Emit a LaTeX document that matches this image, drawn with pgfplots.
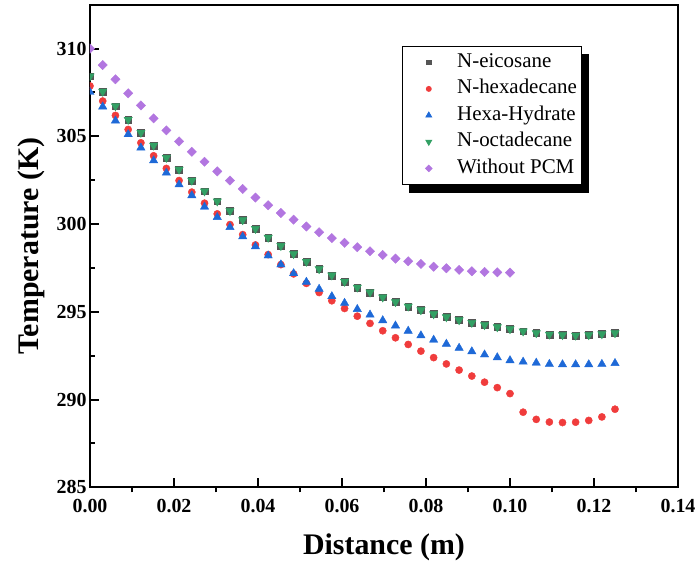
\documentclass[border=0pt]{standalone}
\usepackage{fontspec}
\setmainfont{Liberation Serif}
\usepackage{pgfplots}
\pgfplotsset{compat=1.18}
\usepackage{pgfplotstable}
\usetikzlibrary{backgrounds}

\definecolor{ceic}{RGB}{85,85,85}
\definecolor{chex}{RGB}{240,60,60}
\definecolor{chyd}{RGB}{30,105,215}
\definecolor{coct}{RGB}{50,160,100}
\definecolor{cwo}{RGB}{178,118,224}

\pgfplotstableread{
x eic hex hyd oct wo
0        308.42 307.87 307.52 308.42 310.00
0.00303  307.55 307.01 306.69 307.55 309.06
0.00606  306.72 306.19 305.89 306.72 308.25
0.00909  305.95 305.39 305.11 305.95 307.45
0.01212  305.21 304.63 304.35 305.21 306.76
0.01515  304.48 303.89 303.62 304.48 306.02
0.01818  303.78 303.17 302.92 303.78 305.34
0.02121  303.11 302.48 302.25 303.11 304.71
0.02424  302.48 301.82 301.63 302.48 304.12
0.02727  301.87 301.19 300.98 301.87 303.55
0.03030  301.30 300.58 300.39 301.30 303.00
0.03333  300.75 299.97 299.82 300.75 302.48
0.03636  300.23 299.40 299.29 300.23 302.00
0.03939  299.73 298.81 298.72 299.73 301.51
0.04242  299.23 298.26 298.20 299.23 301.07
0.04545  298.76 297.69 297.69 298.76 300.63
0.04848  298.30 297.16 297.19 298.30 300.25
0.05152  297.86 296.62 296.70 297.86 299.86
0.05455  297.44 296.10 296.30 297.44 299.53
0.05758  297.08 295.63 295.88 297.08 299.20
0.06061  296.72 295.19 295.50 296.72 298.93
0.06364  296.39 294.75 295.15 296.39 298.68
0.06667  296.11 294.34 294.83 296.11 298.45
0.06970  295.83 293.92 294.51 295.83 298.24
0.07273  295.56 293.52 294.21 295.56 298.03
0.07576  295.31 293.14 293.91 295.31 297.88
0.07879  295.10 292.76 293.65 295.10 297.73
0.08182  294.87 292.39 293.40 294.87 297.57
0.08485  294.70 292.03 293.17 294.70 297.48
0.08788  294.53 291.68 292.94 294.53 297.39
0.09091  294.38 291.34 292.74 294.38 297.31
0.09394  294.25 290.99 292.56 294.25 297.27
0.09697  294.13 290.68 292.40 294.13 297.25
0.10000  294.02 290.34 292.23 294.02 297.23
0.103125 293.89 289.28 292.15 293.89 nan
0.10625  293.79 288.87 292.09 293.79 nan
0.109375 293.71 288.72 292.02 293.71 nan
0.1125   293.68 288.69 292.00 293.68 nan
0.115625 293.65 288.71 292.00 293.65 nan
0.11875  293.68 288.81 292.00 293.68 nan
0.121875 293.73 289.01 292.02 293.73 nan
0.125    293.79 289.45 292.07 293.79 nan
}\datatable

\begin{document}
\begin{tikzpicture}
\begin{axis}[
  at={(0,0)}, anchor=south west,
  width=588bp, height=482.6bp, scale only axis,
  xmin=0, xmax=0.14, ymin=285, ymax=312.5,
  clip marker paths=true,
  xtick={0,0.02,0.04,0.06,0.08,0.10,0.12,0.14},
  ytick={285,290,295,300,305,310},
  minor x tick num=1, minor y tick num=1,
  tick align=inside, xtick pos=left, ytick pos=left,
  major tick length=9bp, minor tick length=5bp,
  axis line style={line width=2bp},
  tick style={line width=2bp, black},
  minor x tick style={yshift=-5bp},
  tick label style={font=\fontsize{20}{22}\selectfont\bfseries},
  /pgf/number format/assume math mode=true,
  xticklabel style={yshift=-8bp, /pgf/number format/.cd, fixed, fixed zerofill, precision=2},
  yticklabel style={/pgf/number format/.cd, fixed, precision=0},
  xlabel={Distance (m)}, ylabel={Temperature (K)},
  label style={font=\fontsize{30}{34}\selectfont\bfseries},
  xlabel style={at={(axis description cs:0.5,-0.124)}, anchor=center},
  ylabel style={at={(axis description cs:-0.099,0.5)}, anchor=center},
  legend cell align=left,
  legend image code/.code={\path (0bp,0bp) (49bp,0bp); \draw[#1, every mark/.append style={scale=0.7}] plot coordinates {(22bp,0bp)};},
  legend style={name=leg, at={(axis description cs:0.5306,0.9144)}, anchor=north west,
    draw=black, line width=0.8bp, fill=white,
    font=\fontsize{21}{24}\selectfont,
    inner xsep=4bp, inner ysep=5bp, row sep=4.5bp,
    nodes={inner sep=1bp, text height=15bp, text depth=5bp}},
]
\addplot[only marks, mark=square*, mark size=3.4bp, color=ceic] table[x=x, y=eic] {\datatable};
\addlegendentry{N-eicosane}
\addplot[only marks, mark=*, mark size=3.6bp, color=chex] table[x=x, y=hex] {\datatable};
\addlegendentry{N-hexadecane}
\addplot[only marks, mark=triangle*, mark size=4.8bp, color=chyd] table[x=x, y=hyd] {\datatable};
\addlegendentry{Hexa-Hydrate}
\addplot[only marks, mark=triangle*, mark size=4.8bp, color=coct, mark options={rotate=180}] table[x=x, y=oct] {\datatable};
\addlegendentry{N-octadecane}
\addplot[only marks, mark=square*, mark size=3.3bp, color=cwo, mark options={rotate=45}] table[x=x, y=wo] {\datatable};
\addlegendentry{Without PCM}
\end{axis}
\begin{scope}[on background layer]
\fill[black] ([xshift=7bp,yshift=-8bp]leg.south west) rectangle ([xshift=7bp,yshift=-8bp]leg.north east);
\end{scope}
\pgfresetboundingbox
\path[use as bounding box] (-90bp,-79.7bp) rectangle (606bp,487.3bp);
\end{tikzpicture}
\end{document}
